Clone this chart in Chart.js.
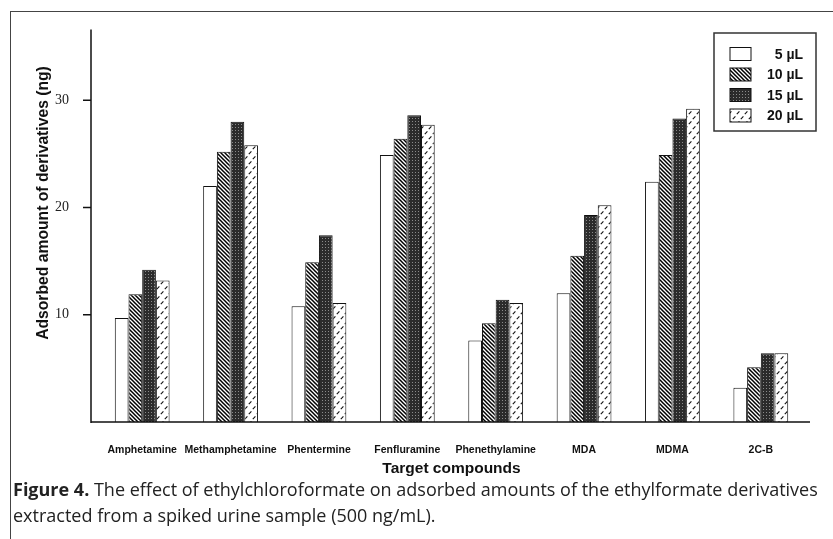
<!DOCTYPE html>
<html>
<head>
<meta charset="utf-8">
<script src="https://cdn.jsdelivr.net/npm/chart.js@4"></script>
<style>
  body { margin: 0; background: #fff; width: 833px; height: 539px; overflow: hidden; position: relative; }
  #frame { position: absolute; left: 10px; top: 11px; right: 0; bottom: 0; border-top: 1.5px solid #444; border-left: 1.5px solid #444; }
  #wrap { position: absolute; left: 0; top: 0; width: 833px; height: 478px; }
  #caption { position: absolute; left: 13px; top: 476px; font-family: "Liberation Sans Narrow", "Open Sans", sans-serif; font-size: 18px; line-height: 26px; color: #222; white-space: nowrap; }
  #caption b { font-weight: bold; }
</style>
</head>
<body>
<div id="frame"></div>
<div id="wrap"><canvas id="chart" width="833" height="478"></canvas></div>
<div id="caption"><b>Figure 4.</b> The effect of ethylchloroformate on adsorbed amounts of the ethylformate derivatives<br>extracted from a spiked urine sample (500 ng/mL).</div>
<script>
const compounds = ["Amphetamine", "Methamphetamine", "Phentermine", "Fenfluramine", "Phenethylamine", "MDA", "MDMA", "2C-B"];
const volumes = ["5 µL", "10 µL", "15 µL", "20 µL"];

const vol5  = [9.7, 22.0, 10.8, 24.9, 7.6, 12.0, 22.4, 3.2];
const vol10 = [11.9, 25.2, 14.9, 26.4, 9.2, 15.5, 24.9, 5.1];
const vol15 = [14.2, 28.0, 17.4, 28.6, 11.4, 19.3, 28.3, 6.4];
const vol20 = [13.2, 25.8, 11.1, 27.7, 11.1, 20.2, 29.2, 6.4];

const yTicks = [10, 20, 30];

// fill patterns, like the printed figure
function tile(w, h, draw) {
    const c = document.createElement("canvas");
    c.width = w; c.height = h;
    const g = c.getContext("2d");
    g.fillStyle = "#fff";
    g.fillRect(0, 0, w, h);
    draw(g);
    return document.getElementById("chart").getContext("2d").createPattern(c, "repeat");
}

const plain = "#fff";
const hatch = tile(4, 4, g => {
    g.strokeStyle = "#000";
    g.lineWidth = 1.5;
    g.beginPath();
    g.moveTo(-1, -1); g.lineTo(5, 5);
    g.moveTo(-1, 3); g.lineTo(1, 5);
    g.moveTo(3, -1); g.lineTo(5, 1);
    g.stroke();
});
const dots = tile(3, 3, g => {
    g.fillStyle = "#2b2b2b";
    g.fillRect(0, 0, 3, 3);
    g.fillStyle = "#8a8a8a";
    g.fillRect(1, 1, 1, 1);
});
const dashes = tile(8, 10, g => {
    g.strokeStyle = "#111";
    g.lineWidth = 1.1;
    g.beginPath();
    g.moveTo(0.8, 4.2); g.lineTo(3.4, 1.4);
    g.moveTo(4.8, 9.2); g.lineTo(7.4, 6.4);
    g.stroke();
});
const fills = [plain, hatch, dots, dashes];

const axesAndLegend = {
    id: "axesAndLegend",
    afterDraw(chart) {
        const ctx = chart.ctx;
        const area = chart.chartArea;
        const y = chart.scales.y;
        const x0 = area.left - 7;
        ctx.save();
        ctx.strokeStyle = "#111";
        ctx.lineWidth = 1.5;
        ctx.beginPath();
        ctx.moveTo(x0, area.top);
        ctx.lineTo(x0, area.bottom + 1);
        ctx.moveTo(x0, area.bottom);
        ctx.lineTo(area.right + 5, area.bottom);
        yTicks.forEach(v => {
            const py = y.getPixelForValue(v);
            ctx.moveTo(x0 - 8, py);
            ctx.lineTo(x0, py);
        });
        ctx.stroke();

        // y axis title
        ctx.fillStyle = "#111";
        ctx.font = "bold 15.7px 'Liberation Sans', Arial, sans-serif";
        ctx.textAlign = "center";
        ctx.textBaseline = "middle";
        ctx.translate(44, 203);
        ctx.rotate(-Math.PI / 2);
        ctx.fillText("Adsorbed amount of derivatives (ng)", 0, 0);
        ctx.restore();

        // legend box
        ctx.save();
        const lx = 714, ly = 33, lw = 102, lh = 98;
        ctx.strokeStyle = "#333";
        ctx.lineWidth = 1.5;
        ctx.strokeRect(lx, ly, lw, lh);
        ctx.font = "bold 14px 'Liberation Sans', Arial, sans-serif";
        ctx.textAlign = "right";
        ctx.textBaseline = "middle";
        volumes.forEach((label, i) => {
            const cy = 54 + i * 20.5;
            ctx.fillStyle = fills[i];
            ctx.fillRect(730, cy - 6.5, 21, 13);
            ctx.strokeStyle = "#111";
            ctx.lineWidth = 1;
            ctx.strokeRect(730, cy - 6.5, 21, 13);
            ctx.fillStyle = "#111";
            ctx.fillText(label, 803, cy + 1);
        });
        ctx.restore();
    }
};

const seriesValues = [vol5, vol10, vol15, vol20];

new Chart(document.getElementById("chart"), {
    type: "bar",
    data: {
        labels: compounds,
        datasets: volumes.map((v, i) => ({
            label: v,
            data: seriesValues[i],
            backgroundColor: fills[i],
            borderColor: "#111",
            borderWidth: 1,
            barPercentage: 1.0,
            categoryPercentage: 0.62
        }))
    },
    options: {
        responsive: false,
        animation: false,
        events: [],
        layout: { padding: { left: 0, top: 23, right: 28, bottom: 0 } },
        plugins: { legend: { display: false }, tooltip: { enabled: false } },
        scales: {
            x: {
                grid: { display: false },
                border: { display: false },
                ticks: {
                    color: "#111",
                    padding: 14,
                    maxRotation: 0,
                    autoSkip: false,
                    font: { family: "'Liberation Sans', Arial, sans-serif", size: 10.5, weight: "bold" }
                },
                title: {
                    display: true,
                    text: "Target compounds",
                    color: "#111",
                    padding: 0,
                    font: { family: "'Liberation Sans', Arial, sans-serif", size: 15.5, weight: "bold" }
                },
                afterFit(scale) { scale.height = 56; }
            },
            y: {
                min: 0,
                max: 36.6,
                grid: { display: false },
                border: { display: false },
                ticks: {
                    stepSize: 10,
                    padding: 21,
                    color: "#222",
                    font: { family: "'Liberation Serif', 'Times New Roman', serif", size: 14 },
                    callback: v => (v !== 0 && v % 10 === 0) ? v : ""
                },
                afterFit(scale) { scale.width = 98; }
            }
        }
    },
    plugins: [axesAndLegend]
});
</script>
</body>
</html>
